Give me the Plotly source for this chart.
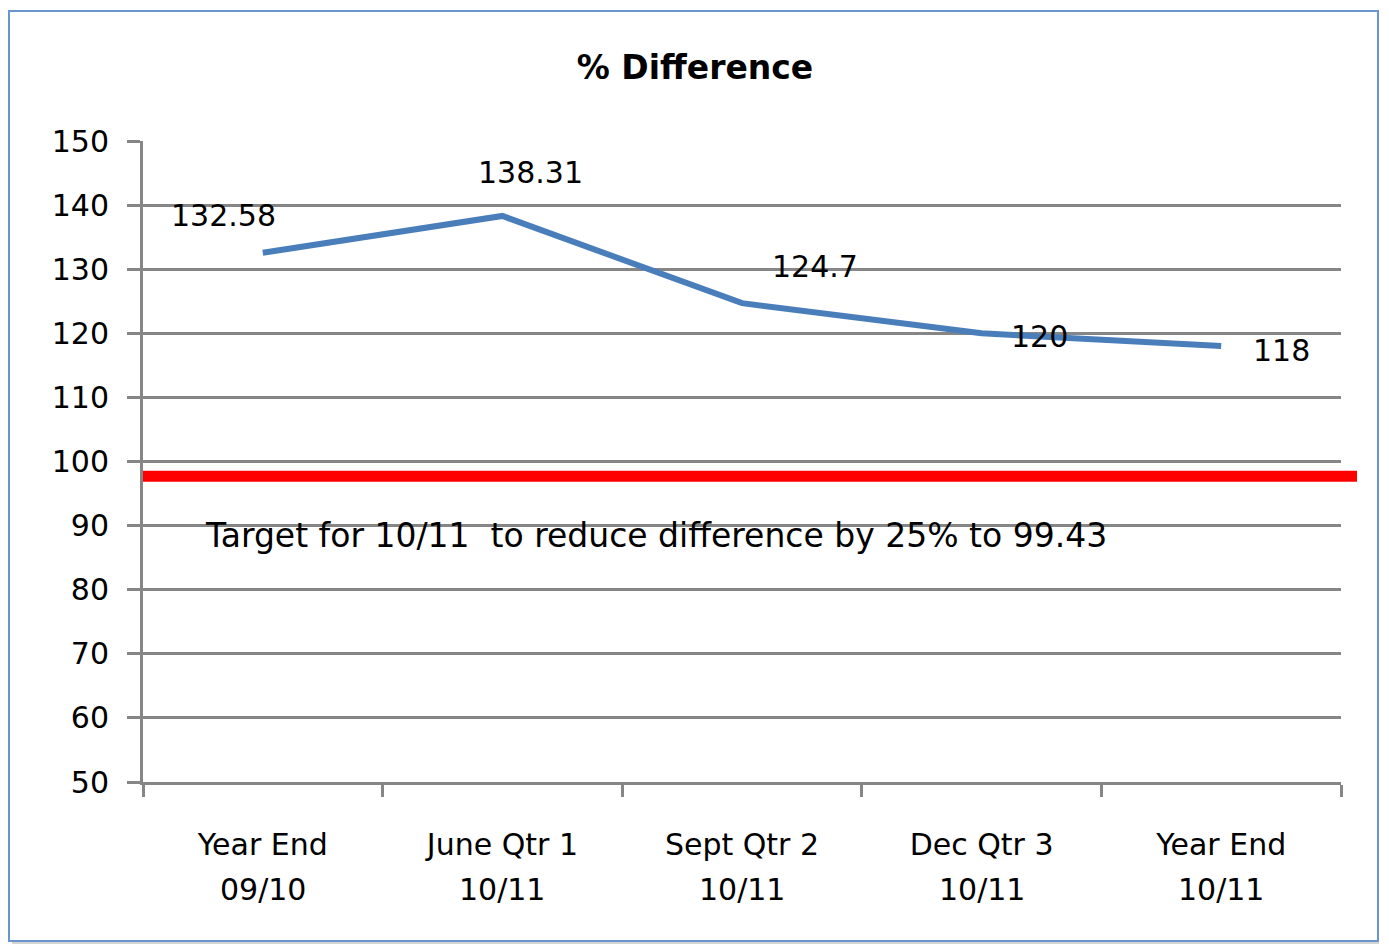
import plotly.graph_objects as go

categories = ["Year End 09/10", "June Qtr 1 10/11", "Sept Qtr 2 10/11", "Dec Qtr 3 10/11", "Year End 10/11"]
cat_line1 = ["Year End", "June Qtr 1", "Sept Qtr 2", "Dec Qtr 3", "Year End"]
cat_line2 = ["09/10", "10/11", "10/11", "10/11", "10/11"]
values = [132.58, 138.31, 124.7, 120, 118]
value_labels = ["132.58", "138.31", "124.7", "120", "118"]
target_level = 97.7
target_text = "Target for 10/11  to reduce difference by 25% to 99.43"
y_ticks = [50, 60, 70, 80, 90, 100, 110, 120, 130, 140, 150]

label_shift = [(-39, 37), (28, 43), (73, 37), (58, -3), (60, -4)]

FONT = "DejaVu Sans, sans-serif"
GRID = "#868686"

# page has an 8px body margin; figure sized so plot area lands where the reference has it
W, H = 1381, 936
L, R, T, B = 135, 48, 133, 162
PW = W - L - R
PH = H - T - B

fig = go.Figure()
fig.add_trace(go.Scatter(
    x=categories, y=values, mode="lines",
    line=dict(color="#4A7EBB", width=6),
    hoverinfo="skip", showlegend=False,
))

for c, v, t, (dx, dy) in zip(categories, values, value_labels, label_shift):
    fig.add_annotation(x=c, y=v, text=t, showarrow=False, xshift=dx, yshift=dy,
                       font=dict(family=FONT, size=30, color="#000000"))

# second line of category labels
for c, t in zip(categories, cat_line2):
    fig.add_annotation(x=c, y=-(889 - 782) / PH, yref="paper", text=t, showarrow=False,
                       yanchor="middle", font=dict(family=FONT, size=30, color="#000000"))

fig.add_annotation(x=(203 - 143) / PW, xref="paper", y=88.4, yref="y", text=target_text,
                   showarrow=False, xanchor="left", yanchor="middle",
                   font=dict(family=FONT, size=33, color="#000000"))

fig.add_shape(type="line", xref="paper", yref="y", x0=0, x1=(1357 - 143) / PW,
              y0=target_level, y1=target_level, line=dict(color="#FF0000", width=11))

# chart border with soft shadow on the bottom
fig.add_shape(type="line", xref="paper", yref="paper",
              x0=(12 - 143) / PW, x1=(1379 - 143) / PW,
              y0=(782 - 943) / PH, y1=(782 - 943) / PH,
              line=dict(color="#D4D4D4", width=3), layer="below")
fig.add_shape(type="rect", xref="paper", yref="paper",
              x0=(9 - 143) / PW, x1=(1378 - 143) / PW,
              y0=(782 - 941) / PH, y1=(782 - 11) / PH,
              line=dict(color="#6A96CF", width=2), layer="below")

fig.update_layout(
    width=W, height=H,
    margin=dict(l=L, r=R, t=T, b=B),
    paper_bgcolor="white", plot_bgcolor="white",
    title=dict(text="<b>% Difference</b>", x=(695 - 8) / W, y=1 - (67 - 8) / H,
               xanchor="center", yanchor="middle",
               font=dict(family=FONT, size=33, color="#000000")),
    xaxis=dict(type="category", categoryarray=categories, range=[-0.5, 4.5],
               tickmode="array", tickvals=categories, ticktext=cat_line1,
               tickson="boundaries", ticks="outside", ticklen=12,
               tickwidth=2.5, tickcolor=GRID, showline=True, linecolor=GRID, linewidth=3,
               showgrid=False, tickfont=dict(family=FONT, size=30, color="#000000"),
               ticklabelstandoff=34, fixedrange=True),
    yaxis=dict(range=[50, 150], tickvals=y_ticks, ticks="outside", ticklen=13,
               tickwidth=3, tickcolor=GRID, showgrid=True, gridcolor=GRID, gridwidth=3,
               showline=True, linecolor=GRID, linewidth=3, zeroline=False,
               tickfont=dict(family=FONT, size=30, color="#000000"),
               ticklabelstandoff=12, fixedrange=True),
)

fig.write_html("out.html")
